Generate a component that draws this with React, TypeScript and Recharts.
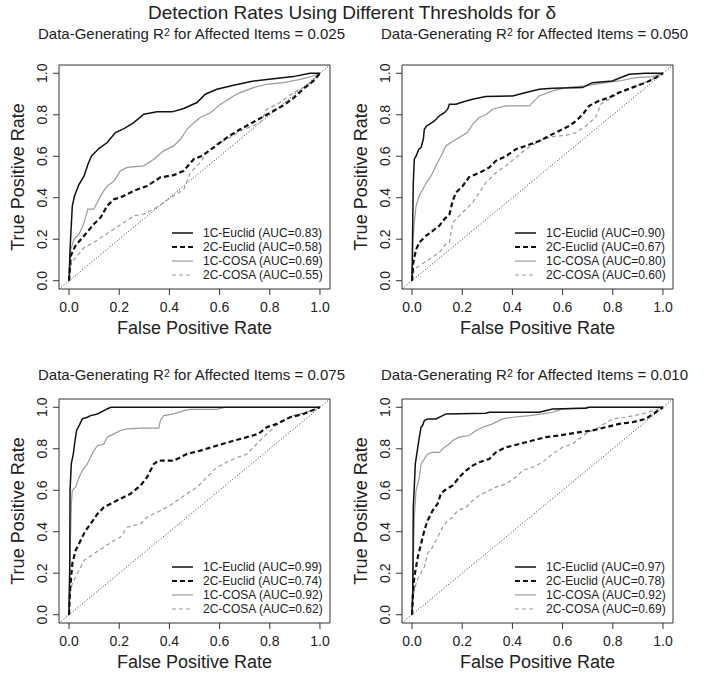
import React from 'react';
import {
  LineChart,
  Line,
  XAxis,
  YAxis,
  Label,
  Legend,
  ReferenceArea,
  ReferenceLine
} from 'recharts';

// ROC points: [false positive rate, true positive rate]
const roc025Euclid1C = [[0,0],[0.004,0.15],[0.007,0.22],[0.013,0.36],[0.022,0.41],[0.04,0.465],[0.06,0.505],[0.075,0.56],[0.089,0.6],[0.119,0.637],[0.152,0.666],[0.185,0.714],[0.219,0.733],[0.258,0.762],[0.298,0.803],[0.351,0.814],[0.411,0.814],[0.457,0.83],[0.51,0.859],[0.543,0.899],[0.589,0.923],[0.656,0.942],[0.735,0.963],[0.815,0.974],[0.894,0.984],[0.96,1],[1,1]];
const roc025Euclid2C = [[0,0],[0.007,0.12],[0.026,0.17],[0.06,0.217],[0.099,0.273],[0.126,0.305],[0.152,0.361],[0.179,0.393],[0.205,0.401],[0.258,0.433],[0.311,0.457],[0.364,0.498],[0.417,0.509],[0.457,0.53],[0.497,0.586],[0.53,0.602],[0.576,0.642],[0.629,0.69],[0.682,0.73],[0.735,0.765],[0.788,0.8],[0.854,0.845],[0.894,0.88],[0.934,0.925],[0.974,0.963],[1,1]];
const roc025Cosa1C = [[0,0],[0.007,0.15],[0.02,0.2],[0.04,0.225],[0.06,0.28],[0.075,0.345],[0.099,0.345],[0.126,0.41],[0.152,0.457],[0.179,0.48],[0.205,0.53],[0.232,0.546],[0.298,0.554],[0.338,0.586],[0.377,0.626],[0.417,0.65],[0.444,0.682],[0.47,0.73],[0.497,0.762],[0.523,0.787],[0.563,0.81],[0.603,0.85],[0.656,0.891],[0.682,0.907],[0.735,0.931],[0.788,0.947],[0.854,0.955],[0.921,0.971],[0.974,0.987],[1,1]];
const roc025Cosa2C = [[0,0],[0.009,0.088],[0.033,0.12],[0.06,0.16],[0.099,0.185],[0.139,0.217],[0.179,0.249],[0.219,0.281],[0.258,0.313],[0.298,0.321],[0.338,0.345],[0.377,0.377],[0.417,0.41],[0.457,0.44],[0.483,0.52],[0.523,0.57],[0.55,0.618],[0.589,0.658],[0.642,0.69],[0.682,0.722],[0.762,0.762],[0.788,0.827],[0.841,0.859],[0.894,0.907],[0.947,0.939],[1,1]];

const roc050Euclid1C = [[0,0],[0.003,0.3],[0.005,0.47],[0.009,0.586],[0.016,0.6],[0.027,0.634],[0.036,0.642],[0.045,0.682],[0.049,0.73],[0.058,0.746],[0.069,0.754],[0.089,0.77],[0.109,0.795],[0.129,0.81],[0.142,0.827],[0.149,0.851],[0.175,0.851],[0.202,0.862],[0.241,0.875],[0.294,0.888],[0.401,0.891],[0.454,0.907],[0.507,0.923],[0.56,0.928],[0.679,0.931],[0.719,0.955],[0.798,0.963],[0.865,0.995],[0.931,1],[1,1]];
const roc050Euclid2C = [[0,0],[0.005,0.088],[0.016,0.15],[0.029,0.185],[0.056,0.217],[0.082,0.24],[0.109,0.265],[0.129,0.297],[0.149,0.32],[0.162,0.385],[0.175,0.425],[0.202,0.457],[0.228,0.5],[0.268,0.52],[0.308,0.546],[0.334,0.578],[0.374,0.6],[0.414,0.634],[0.454,0.65],[0.507,0.674],[0.546,0.698],[0.586,0.722],[0.626,0.746],[0.653,0.77],[0.679,0.8],[0.706,0.843],[0.745,0.867],[0.785,0.883],[0.825,0.907],[0.878,0.931],[0.931,0.955],[0.971,0.979],[1,1]];
const roc050Cosa1C = [[0,0],[0.004,0.2],[0.009,0.28],[0.016,0.36],[0.029,0.41],[0.042,0.44],[0.056,0.47],[0.076,0.505],[0.095,0.554],[0.115,0.6],[0.135,0.65],[0.155,0.666],[0.188,0.69],[0.221,0.714],[0.241,0.754],[0.268,0.787],[0.294,0.8],[0.321,0.827],[0.347,0.835],[0.374,0.843],[0.467,0.843],[0.487,0.867],[0.507,0.891],[0.56,0.915],[0.613,0.931],[0.692,0.939],[0.772,0.955],[0.825,0.963],[0.891,0.979],[0.958,0.984],[1,1]];
const roc050Cosa2C = [[0,0],[0.009,0.056],[0.029,0.072],[0.069,0.104],[0.109,0.136],[0.135,0.177],[0.149,0.185],[0.162,0.28],[0.188,0.313],[0.215,0.345],[0.241,0.377],[0.268,0.425],[0.294,0.473],[0.334,0.52],[0.374,0.554],[0.414,0.594],[0.454,0.634],[0.507,0.674],[0.56,0.695],[0.613,0.701],[0.653,0.714],[0.692,0.746],[0.732,0.787],[0.752,0.851],[0.785,0.875],[0.825,0.907],[0.891,0.939],[0.958,0.971],[1,1]];

const roc075Euclid1C = [[0,0],[0.003,0.245],[0.004,0.6],[0.009,0.727],[0.017,0.775],[0.022,0.823],[0.03,0.888],[0.04,0.912],[0.053,0.944],[0.073,0.952],[0.086,0.96],[0.113,0.968],[0.139,0.984],[0.152,0.992],[0.166,1],[1,1]];
const roc075Euclid2C = [[0,0],[0.004,0.117],[0.013,0.245],[0.026,0.31],[0.046,0.358],[0.066,0.406],[0.086,0.438],[0.113,0.486],[0.139,0.518],[0.166,0.535],[0.205,0.559],[0.245,0.583],[0.285,0.623],[0.311,0.663],[0.338,0.727],[0.358,0.743],[0.417,0.743],[0.47,0.775],[0.523,0.791],[0.589,0.815],[0.656,0.839],[0.709,0.856],[0.755,0.872],[0.788,0.904],[0.828,0.92],[0.881,0.952],[0.934,0.968],[1,1]];
const roc075Cosa1C = [[0,0],[0.003,0.28],[0.007,0.42],[0.009,0.53],[0.013,0.6],[0.026,0.615],[0.04,0.663],[0.053,0.695],[0.073,0.727],[0.086,0.76],[0.099,0.79],[0.113,0.815],[0.139,0.823],[0.152,0.856],[0.179,0.872],[0.205,0.888],[0.232,0.896],[0.285,0.9],[0.358,0.9],[0.364,0.936],[0.377,0.96],[0.417,0.968],[0.457,0.984],[0.483,0.99],[0.589,0.99],[0.62,1],[1,1]];
const roc075Cosa2C = [[0,0],[0.004,0.1],[0.013,0.15],[0.033,0.197],[0.06,0.262],[0.099,0.294],[0.139,0.326],[0.179,0.358],[0.205,0.374],[0.232,0.422],[0.258,0.43],[0.285,0.438],[0.311,0.47],[0.351,0.494],[0.391,0.518],[0.43,0.55],[0.47,0.583],[0.51,0.615],[0.55,0.663],[0.589,0.711],[0.656,0.751],[0.709,0.775],[0.748,0.823],[0.788,0.872],[0.841,0.928],[0.894,0.96],[0.947,0.976],[1,1]];

const roc010Euclid1C = [[0,0],[0.003,0.117],[0.005,0.518],[0.009,0.615],[0.013,0.727],[0.019,0.775],[0.027,0.84],[0.036,0.904],[0.042,0.912],[0.049,0.936],[0.062,0.944],[0.095,0.944],[0.122,0.96],[0.135,0.968],[0.294,0.971],[0.308,0.976],[0.507,0.976],[0.56,0.992],[0.692,0.995],[0.706,1],[1,1]];
const roc010Euclid2C = [[0,0],[0.003,0.085],[0.009,0.181],[0.023,0.278],[0.036,0.342],[0.049,0.406],[0.062,0.454],[0.082,0.502],[0.102,0.535],[0.115,0.583],[0.129,0.599],[0.162,0.623],[0.188,0.663],[0.215,0.695],[0.241,0.719],[0.268,0.735],[0.308,0.751],[0.334,0.783],[0.374,0.807],[0.427,0.823],[0.48,0.84],[0.533,0.856],[0.586,0.864],[0.666,0.88],[0.719,0.888],[0.772,0.904],[0.825,0.92],[0.878,0.928],[0.931,0.944],[0.971,0.976],[1,1]];
const roc010Cosa1C = [[0,0],[0.005,0.245],[0.009,0.47],[0.016,0.6],[0.023,0.63],[0.029,0.663],[0.036,0.727],[0.049,0.751],[0.062,0.775],[0.082,0.783],[0.109,0.783],[0.129,0.807],[0.149,0.823],[0.162,0.84],[0.188,0.856],[0.228,0.864],[0.255,0.888],[0.281,0.904],[0.321,0.92],[0.361,0.944],[0.401,0.952],[0.467,0.96],[0.52,0.968],[0.56,0.976],[0.6,0.992],[0.7,1],[1,1]];
const roc010Cosa2C = [[0,0],[0.005,0.1],[0.016,0.15],[0.029,0.19],[0.049,0.23],[0.062,0.294],[0.082,0.326],[0.102,0.374],[0.122,0.422],[0.142,0.454],[0.162,0.47],[0.182,0.502],[0.215,0.518],[0.241,0.55],[0.268,0.575],[0.294,0.59],[0.334,0.615],[0.374,0.631],[0.414,0.663],[0.44,0.695],[0.48,0.711],[0.52,0.735],[0.56,0.775],[0.599,0.807],[0.639,0.823],[0.692,0.872],[0.745,0.904],[0.798,0.944],[0.851,0.952],[0.918,0.968],[1,1]];

const r2Labels = ['0.025', '0.050', '0.075', '0.010'];
const methodNames = ['1C-Euclid', '2C-Euclid', '1C-COSA', '2C-COSA'];
const aucEuclid1C = ['0.83', '0.90', '0.99', '0.97'];
const aucEuclid2C = ['0.58', '0.67', '0.74', '0.78'];
const aucCosa1C = ['0.69', '0.80', '0.92', '0.92'];
const aucCosa2C = ['0.55', '0.60', '0.62', '0.69'];
const axisTicks = [0, 0.2, 0.4, 0.6, 0.8, 1.0];

const curves = [
  [roc025Euclid1C, roc025Euclid2C, roc025Cosa1C, roc025Cosa2C],
  [roc050Euclid1C, roc050Euclid2C, roc050Cosa1C, roc050Cosa2C],
  [roc075Euclid1C, roc075Euclid2C, roc075Cosa1C, roc075Cosa2C],
  [roc010Euclid1C, roc010Euclid2C, roc010Cosa1C, roc010Cosa2C]
];
const aucs = [aucEuclid1C, aucEuclid2C, aucCosa1C, aucCosa2C];

// line look per method, same order as methodNames
const lineStyles = [
  { stroke: '#111', width: 1.5, dash: undefined },
  { stroke: '#111', width: 2.2, dash: '5 3' },
  { stroke: '#9a9a9a', width: 1.2, dash: undefined },
  { stroke: '#9a9a9a', width: 1.2, dash: '4 3' }
];

const FONT = '"Liberation Sans", Arial, Helvetica, sans-serif';
const TEXT = '#222';
const DOMAIN: [number, number] = [-0.04, 1.04];
const CHART_W = 352;
const CHART_H = 290;
const PLOT_W = 271;

const YTick = (props: any) => {
  const { x, y, payload } = props;
  return (
    <text x={x} y={y} transform={`rotate(-90 ${x} ${y})`} textAnchor="middle" fontSize={14} fill={TEXT} fontFamily={FONT}>
      {Number(payload.value).toFixed(1)}
    </text>
  );
};

const xTitle = (props: any) => {
  const { x, y, width } = props.viewBox;
  return (
    <text x={x + width / 2} y={y + 39} dy="0.36em" textAnchor="middle" fontSize={18} fill={TEXT} fontFamily={FONT}>
      False Positive Rate
    </text>
  );
};

const yTitle = (props: any) => {
  const { x, y, width, height } = props.viewBox;
  const cx = x + width - 41;
  const cy = y + height / 2;
  return (
    <text x={cx} y={cy} dy="0.36em" transform={`rotate(-90 ${cx} ${cy})`} textAnchor="middle" fontSize={18} fill={TEXT} fontFamily={FONT}>
      True Positive Rate
    </text>
  );
};

const renderLegend = (panelIdx: number) => () => (
  <svg width={160} height={56} style={{ display: 'block' }}>
    {methodNames.map((name, i) => {
      const st = lineStyles[i];
      const cy = 7 + i * 14;
      return (
        <g key={name}>
          <line x1={0} x2={21} y1={cy} y2={cy} stroke={st.stroke} strokeWidth={st.width} strokeDasharray={st.dash} />
          <text x={31} y={cy} dy="0.35em" fontSize={12} fill={TEXT} fontFamily={FONT}>
            {`${name} (AUC=${aucs[i][panelIdx]})`}
          </text>
        </g>
      );
    })}
  </svg>
);

const RocPanel = ({ idx, left, top, axisW }: { idx: number; left: number; top: number; axisW: number }) => {
  const series = curves[idx].map((pts, i) => ({
    name: methodNames[i],
    style: lineStyles[i],
    data: pts.map(([x, y]) => ({ x, y }))
  }));
  const rightMargin = CHART_W - axisW - PLOT_W;
  return (
    <div style={{ position: 'absolute', left, top }}>
      <LineChart width={CHART_W} height={CHART_H} margin={{ top: 15, right: rightMargin, bottom: 3, left: 0 }}>
        <XAxis
          type="number"
          dataKey="x"
          domain={DOMAIN}
          allowDataOverflow
          ticks={axisTicks}
          interval={0}
          tickFormatter={(v: number) => v.toFixed(1)}
          axisLine={false}
          tickLine={{ stroke: '#333' }}
          tickSize={6}
          tickMargin={7}
          height={48}
          tick={{ fontSize: 14, fill: TEXT, fontFamily: FONT }}
        >
          <Label content={xTitle} />
        </XAxis>
        <YAxis
          type="number"
          dataKey="y"
          domain={DOMAIN}
          allowDataOverflow
          ticks={axisTicks}
          interval={0}
          axisLine={false}
          tickLine={{ stroke: '#333' }}
          tickSize={6}
          tickMargin={6}
          width={axisW}
          tick={<YTick />}
        >
          <Label content={yTitle} />
        </YAxis>
        <ReferenceLine
          segment={[{ x: DOMAIN[0], y: DOMAIN[0] }, { x: DOMAIN[1], y: DOMAIN[1] }]}
          stroke="#333"
          strokeWidth={1}
          strokeDasharray="1 2"
          ifOverflow="visible"
        />
        {[3, 2, 1, 0].map(i => (
          <Line
            key={series[i].name}
            data={series[i].data}
            dataKey="y"
            name={series[i].name}
            type="linear"
            stroke={series[i].style.stroke}
            strokeWidth={series[i].style.width}
            strokeDasharray={series[i].style.dash}
            dot={false}
            activeDot={false}
            isAnimationActive={false}
          />
        ))}
        <ReferenceArea
          x1={DOMAIN[0]}
          x2={DOMAIN[1]}
          y1={DOMAIN[0]}
          y2={DOMAIN[1]}
          fill="none"
          fillOpacity={0}
          stroke="#333"
          strokeWidth={1}
          ifOverflow="visible"
        />
        <Legend
          layout="vertical"
          align="center"
          verticalAlign="middle"
          content={renderLegend(idx)}
          wrapperStyle={{ left: axisW + PLOT_W - 158, top: 176, width: 160, height: 56 }}
        />
      </LineChart>
    </div>
  );
};

const Subtitle = ({ idx, center, top }: { idx: number; center: number; top: number }) => (
  <div
    style={{
      position: 'absolute',
      left: center - 200,
      width: 400,
      top,
      textAlign: 'center',
      fontSize: 15,
      lineHeight: 1,
      color: TEXT,
      whiteSpace: 'nowrap'
    }}
  >
    Data-Generating R<sup style={{ fontSize: '0.7em', verticalAlign: '0.3em', lineHeight: 0 }}>2</sup> for Affected Items = {r2Labels[idx]}
  </div>
);

export default function App() {
  return (
    <div
      style={{
        position: 'absolute',
        left: 0,
        top: 0,
        width: 704,
        height: 677,
        background: '#fff',
        fontFamily: FONT,
        overflow: 'hidden'
      }}
    >
      <div style={{ position: 'absolute', left: 0, width: 704, top: 3, textAlign: 'center', fontSize: 19, lineHeight: 1, color: TEXT }}>
        Detection Rates Using Different Thresholds for δ
      </div>
      <Subtitle idx={0} center={191.5} top={26} />
      <Subtitle idx={1} center={534.5} top={26} />
      <Subtitle idx={2} center={191.5} top={367} />
      <Subtitle idx={3} center={534.5} top={367} />
      <RocPanel idx={0} left={0} top={50} axisW={59} />
      <RocPanel idx={1} left={352} top={50} axisW={50} />
      <RocPanel idx={2} left={0} top={384} axisW={59} />
      <RocPanel idx={3} left={352} top={384} axisW={50} />
    </div>
  );
}
